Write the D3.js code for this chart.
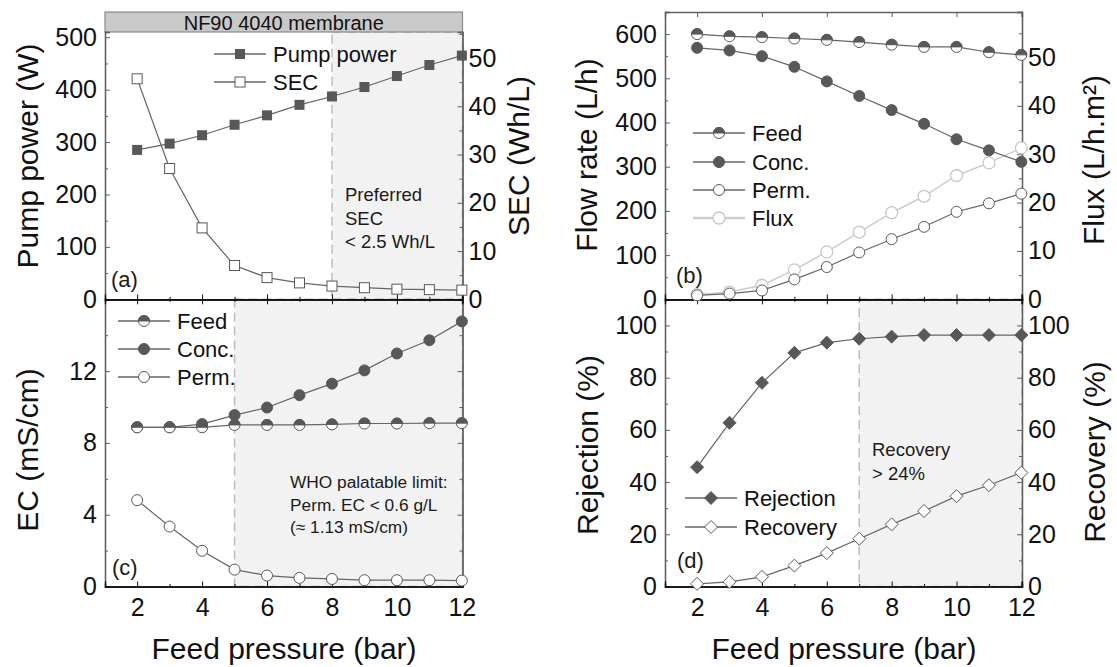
<!DOCTYPE html>
<html>
<head>
<meta charset="utf-8">
<script src="https://cdn.jsdelivr.net/npm/d3@7"></script>
<style>
  body { margin: 0; background: #fff; }
  svg { font-family: "Liberation Sans", Arial, sans-serif; }
</style>
</head>
<body>
<svg id="chart" width="1117" height="667"></svg>
<script>
// feed pressure (bar)
const pressure = [2, 3, 4, 5, 6, 7, 8, 9, 10, 11, 12];

// (a) pump power (W) and SEC (Wh/L)
const pumpPower = [285, 297, 313, 333, 351, 371, 387, 405, 426, 447, 465];
const sec = [45.7, 27.1, 14.8, 7.0, 4.5, 3.4, 2.75, 2.4, 2.1, 2.0, 1.9];

// (b) flow rate (L/h) and flux (L/h.m2)
const feedFlow = [600, 595, 593, 590, 587, 582, 576, 571, 571, 559, 553];
const concFlow = [569, 563, 550, 526, 493, 460, 428, 397, 362, 337, 311];
const permFlow = [9, 13, 20, 45, 73, 106, 136, 164, 198, 217, 239];
const flux = [1.0, 1.5, 2.9, 6.1, 9.8, 13.9, 17.9, 21.3, 25.6, 28.2, 31.3];

// (c) EC (mS/cm)
const feedEC = [8.87, 8.87, 8.87, 9.0, 9.0, 9.0, 9.03, 9.08, 9.08, 9.1, 9.1];
const concEC = [8.87, 8.87, 9.05, 9.55, 9.97, 10.66, 11.3, 12.04, 12.98, 13.72, 14.77];
const permEC = [4.81, 3.34, 1.99, 0.94, 0.61, 0.48, 0.42, 0.35, 0.35, 0.35, 0.33];

// (d) rejection and recovery (%)
const rejection = [45.7, 62.7, 78, 89.5, 93.4, 94.9, 95.7, 96.3, 96.3, 96.3, 96.3];
const recovery = [1.0, 1.8, 3.7, 8.0, 12.8, 18.3, 23.8, 28.9, 34.6, 38.8, 43.6];

const xTicks = [2, 4, 6, 8, 10, 12];

const svg = d3.select("#chart");
const dark = "#585858", lineCol = "#666", axisCol = "#606060";

function marker(g, type, cx, cy) {
  const r = 5.5;
  const m = g.append("g").attr("transform", "translate(" + cx + "," + cy + ")");
  if (type == "sqFill") m.append("rect").attr("x", -5).attr("y", -5).attr("width", 10).attr("height", 10).attr("fill", dark);
  if (type == "sqOpen") m.append("rect").attr("x", -5).attr("y", -5).attr("width", 10).attr("height", 10).attr("fill", "#fff").attr("stroke", dark);
  if (type == "cFill") m.append("circle").attr("r", r).attr("fill", dark).attr("stroke", dark);
  if (type == "cOpen") m.append("circle").attr("r", r).attr("fill", "#fff").attr("stroke", dark);
  if (type == "cFlux") m.append("circle").attr("r", r + 0.5).attr("fill", "#fff").attr("stroke", "#c8c8c8").attr("stroke-width", 1.3);
  if (type == "cHalf") {
    m.append("circle").attr("r", r).attr("fill", "#fff").attr("stroke", dark);
    m.append("path").attr("d", "M" + (-r) + ",0A" + r + "," + r + " 0 0 1 " + r + ",0Z").attr("fill", dark).attr("stroke", dark);
  }
  if (type == "dFill" || type == "dOpen") {
    m.append("path").attr("d", "M0,-6.5L6.5,0L0,6.5L-6.5,0Z")
      .attr("fill", type == "dFill" ? dark : "#fff").attr("stroke", dark);
  }
}

function series(g, x, y, vals, type, col, w) {
  const line = d3.line().x((d, i) => x(pressure[i])).y(d => y(d));
  g.append("path").datum(vals).attr("d", line).attr("fill", "none")
    .attr("stroke", col || lineCol).attr("stroke-width", w || 1.2);
  vals.forEach((v, i) => marker(g, type, x(pressure[i]), y(v)));
}

function legend(g, x0, rows) {
  rows.forEach(r => {
    g.append("line").attr("x1", x0).attr("x2", x0 + 52).attr("y1", r.y).attr("y2", r.y)
      .attr("stroke", r.col || lineCol).attr("stroke-width", r.w || 1.5);
    marker(g, r.type, x0 + 26, r.y);
    g.append("text").attr("x", x0 + 59).attr("y", r.y).attr("dy", "0.36em")
      .attr("font-size", 22).attr("fill", "#111").text(r.label);
  });
}

function shade(g, x, y, from) {
  g.append("rect").attr("x", x(from)).attr("y", y.range()[1])
    .attr("width", x.range()[1] - x(from)).attr("height", y.range()[0] - y.range()[1])
    .attr("fill", "#f2f2f2").attr("stroke", "#bdbdbd").attr("stroke-width", 1.5)
    .attr("stroke-dasharray", "9,5");
}

function yAxis(g, y, side, xpos, major, minor, labels, fmt) {
  const ax = side == "left" ? d3.axisLeft(y) : d3.axisRight(y);
  const a = g.append("g").attr("transform", "translate(" + xpos + ",0)")
    .call(ax.tickValues(major).tickSize(-5).tickPadding(side == "left" ? 8 : 6)
      .tickFormat(labels ? (fmt || d3.format("d")) : ""));
  const ax2 = side == "left" ? d3.axisLeft(y) : d3.axisRight(y);
  const b = g.append("g").attr("transform", "translate(" + xpos + ",0)")
    .call(ax2.tickValues(minor).tickSize(-3).tickFormat(""));
  [a, b].forEach(s => {
    s.selectAll("path").attr("stroke", axisCol).attr("stroke-width", 1.3);
    s.selectAll("line").attr("stroke", axisCol);
    s.selectAll("text").attr("font-size", 25).attr("fill", "#111").attr("font-family", null);
  });
}

function xAxis(g, x, ypos, dir, labels) {
  const minorT = [3, 5, 7, 9, 11];
  const sizes = dir == "both" ? [-5, 5] : [-5];
  sizes.forEach(s => {
    const a = g.append("g").attr("transform", "translate(0," + ypos + ")")
      .call(d3.axisBottom(x).tickValues(xTicks).tickSize(s).tickPadding(12)
        .tickFormat(labels && s < 0 ? d3.format("d") : ""));
    const b = g.append("g").attr("transform", "translate(0," + ypos + ")")
      .call(d3.axisBottom(x).tickValues(minorT).tickSize(s / 2).tickFormat(""));
    [a, b].forEach(t => {
      t.selectAll("path").attr("stroke", "#111").attr("stroke-width", 1.3);
      t.selectAll("line").attr("stroke", "#111");
      t.selectAll("text").attr("font-size", 25).attr("fill", "#111").attr("font-family", null);
    });
  });
}

function topFrame(g, x, ypos) {
  const a = g.append("g").attr("transform", "translate(0," + ypos + ")")
    .call(d3.axisTop(x).tickValues(xTicks).tickSize(-5).tickFormat(""));
  a.selectAll("path").attr("stroke", axisCol).attr("stroke-width", 1.3);
  a.selectAll("line").attr("stroke", axisCol);
}

function yTitle(g, label, cx, cy) {
  g.append("text").attr("transform", "translate(" + cx + "," + cy + ") rotate(-90)")
    .attr("text-anchor", "middle").attr("dy", "0.35em").attr("font-size", 30).attr("fill", "#111").text(label);
}

function note(g, x0, y0, lines, size, gap) {
  lines.forEach((t, i) => g.append("text").attr("x", x0).attr("y", y0 + i * gap).attr("dy", "0.35em")
    .attr("font-size", size).attr("fill", "#1a1a1a").text(t));
}

const g = svg.append("g");

// ---------- panel (a)
const xA = d3.scaleLinear().domain([1.01, 12.02]).range([105, 462.5]);
const yA = d3.scaleLinear().domain([0, 510]).range([299.3, 32]);
const yA2 = d3.scaleLinear().domain([0, 55.4]).range([299.3, 32]);

// ---------- panel (b)
const xB = d3.scaleLinear().domain([1.01, 12.02]).range([665, 1022]);
const yB = d3.scaleLinear().domain([0, 650]).range([299.3, 12]);
const yB2 = d3.scaleLinear().domain([0, 59.4]).range([299.3, 12]);

// ---------- panel (c)
const xC = d3.scaleLinear().domain([1.01, 12.02]).range([105, 462.5]);
const yC = d3.scaleLinear().domain([0, 16]).range([586.5, 299.3]);

// ---------- panel (d)
const xD = d3.scaleLinear().domain([1.01, 12.02]).range([665, 1022]);
const yD = d3.scaleLinear().domain([0, 110]).range([586.5, 299.3]);

// shaded preferred regions
shade(g, xA, yA, 8);
shade(g, xC, yC, 5);
shade(g, xD, yD, 7);

// title bar
g.append("rect").attr("x", 105).attr("y", 12).attr("width", 357.5).attr("height", 20)
  .attr("fill", "#c9c9c9").attr("stroke", "#8a8a8a").attr("stroke-width", 1.2);
g.append("text").attr("x", (105 + 462.5) / 2).attr("y", 22.5).attr("dy", "0.36em")
  .attr("text-anchor", "middle").attr("font-size", 20).attr("fill", "#111").text("NF90 4040 membrane");

// axes
yAxis(g, yA, "left", 105, d3.range(0, 501, 100), d3.range(50, 501, 100), true);
yAxis(g, yA2, "right", 462.5, d3.range(0, 51, 10), d3.range(5, 56, 10), true);
yAxis(g, yB, "left", 665, d3.range(0, 601, 100), d3.range(50, 651, 100), true);
yAxis(g, yB2, "right", 1022, d3.range(0, 51, 10), d3.range(5, 56, 10), true);
yAxis(g, yC, "left", 105, [0, 4, 8, 12], [2, 6, 10, 14], true);
yAxis(g, yC, "right", 462.5, [0, 4, 8, 12], [2, 6, 10, 14], false);
yAxis(g, yD, "left", 665, d3.range(0, 101, 20), d3.range(10, 110, 20), true);
yAxis(g, yD, "right", 1022, d3.range(0, 101, 20), d3.range(10, 110, 20), true);

topFrame(g, xB, 12);
xAxis(g, xC, 586.5, "in", true);
xAxis(g, xD, 586.5, "in", true);
xAxis(g, xA, 299.3, "both", false);
xAxis(g, xB, 299.3, "both", false);

// data (a)
series(g, xA, yA2, sec, "sqOpen");
series(g, xA, yA, pumpPower, "sqFill");
// data (b)
series(g, xB, yB2, flux, "cFlux", "#cccccc", 1.5);
series(g, xB, yB, permFlow, "cOpen");
series(g, xB, yB, concFlow, "cFill");
series(g, xB, yB, feedFlow, "cHalf");
// data (c)
series(g, xC, yC, permEC, "cOpen");
series(g, xC, yC, concEC, "cFill");
series(g, xC, yC, feedEC, "cHalf");
// data (d)
series(g, xD, yD, recovery, "dOpen");
series(g, xD, yD, rejection, "dFill");

// legends
legend(g, 214, [{y: 54, type: "sqFill", label: "Pump power"}, {y: 82, type: "sqOpen", label: "SEC"}]);
legend(g, 693, [{y: 133, type: "cHalf", label: "Feed"}, {y: 162, type: "cFill", label: "Conc."},
  {y: 190, type: "cOpen", label: "Perm."}, {y: 218, type: "cFlux", label: "Flux", col: "#cccccc", w: 2.5}]);
legend(g, 118, [{y: 321, type: "cHalf", label: "Feed"}, {y: 349, type: "cFill", label: "Conc."},
  {y: 377, type: "cOpen", label: "Perm."}]);
legend(g, 685, [{y: 498, type: "dFill", label: "Rejection"}, {y: 527, type: "dOpen", label: "Recovery"}]);

// annotations
note(g, 345, 195, ["Preferred", "SEC", "< 2.5 Wh/L"], 18.5, 23.5);
note(g, 290, 482, ["WHO palatable limit:", "Perm. EC < 0.6 g/L", "(\u2248 1.13 mS/cm)"], 17.3, 22.5);
note(g, 872, 450, ["Recovery", "> 24%"], 18.5, 24);
note(g, 111, 279, ["(a)"], 22, 0);
note(g, 676, 275, ["(b)"], 22, 0);
note(g, 112, 567, ["(c)"], 22, 0);
note(g, 677, 560, ["(d)"], 22, 0);

// axis titles
yTitle(g, "Pump power (W)", 27, 156);
yTitle(g, "SEC (Wh/L)", 518, 156);
yTitle(g, "Flow rate (L/h)", 586, 155);
yTitle(g, "Flux (L/h.m\u00b2)", 1093, 160);
yTitle(g, "EC (mS/cm)", 27, 450);
yTitle(g, "Rejection (%)", 587, 445);
yTitle(g, "Recovery (%)", 1094, 452);
g.append("text").attr("x", 284).attr("y", 648).attr("dy", "0.35em").attr("text-anchor", "middle")
  .attr("font-size", 30).attr("fill", "#111").text("Feed pressure (bar)");
g.append("text").attr("x", 844).attr("y", 648).attr("dy", "0.35em").attr("text-anchor", "middle")
  .attr("font-size", 30).attr("fill", "#111").text("Feed pressure (bar)");
</script>
</body>
</html>
